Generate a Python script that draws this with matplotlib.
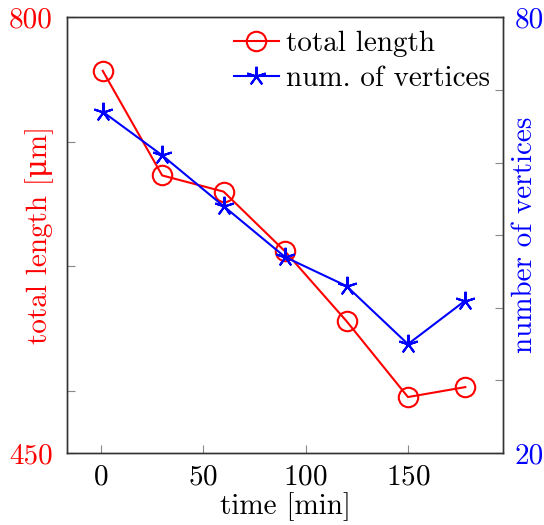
import matplotlib
matplotlib.use("Agg")
import matplotlib.pyplot as plt

plt.rcParams['font.family'] = ['cmr10', 'DejaVu Serif']
plt.rcParams['mathtext.fontset'] = 'cm'
plt.rcParams['axes.formatter.use_mathtext'] = True

# datos
time_min = [1, 30, 60, 90, 120, 150, 178]
total_length = [757, 673, 660, 612, 556, 495, 503]
num_vertices = [67, 61, 54, 47, 43, 35, 41]

left_ticks = [450, 500, 600, 700, 800]
left_labels = ['450', '', '', '', '800']
right_ticks = [20, 30, 40, 50, 60, 70, 80]
right_labels = ['20', '', '', '', '', '', '80']
x_ticks = [0, 50, 100, 150]

fs = 21
red = '#ff0000'
blue = '#0000ff'

fig = plt.figure(figsize=(5.44, 5.25), dpi=100)
ax = fig.add_axes([0.123, 0.137, 0.802, 0.830])
ax2 = ax.twinx()

l1, = ax.plot(time_min, total_length, color=red, lw=1.5, marker='o',
              markersize=14, markerfacecolor='none', markeredgewidth=1.5,
              label='total length')
l2, = ax2.plot(time_min, num_vertices, color=blue, lw=1.5, marker=(5, 2, 0),
               markersize=14, markeredgewidth=1.5, label='num. of vertices')

ax.set_xlim(-16.5, 196.5)
ax.set_ylim(450, 800)
ax2.set_ylim(20, 80)

ax.set_xticks(x_ticks)
ax.set_yticks(left_ticks)
ax.set_yticklabels(left_labels)
ax2.set_yticks(right_ticks)
ax2.set_yticklabels(right_labels)

for a in (ax, ax2):
    a.tick_params(direction='in', length=6, width=0.8, color='#888888',
                  labelsize=fs, pad=6)
    for s in a.spines.values():
        s.set_color('#333333')
        s.set_linewidth(1.0)
ax.tick_params(axis='x', pad=8)
ax.tick_params(axis='y', labelcolor=red, pad=10)
ax2.tick_params(axis='y', labelcolor=blue, pad=8)

ax.set_xlabel('time [min]', fontsize=fs, labelpad=1)
ax.set_ylabel('total length [\u03bcm]', fontsize=fs, color=red)
ax2.set_ylabel('number of vertices', fontsize=fs, color=blue)
ax.yaxis.set_label_coords(-0.062, 0.5)
ax2.yaxis.set_label_coords(1.05, 0.5)
ax.yaxis.label.set_va('center')
ax2.yaxis.label.set_va('center')

ax.legend(handles=[l1, l2], loc='upper right', fontsize=fs, frameon=False,
          handlelength=1.55, handletextpad=0.25, borderaxespad=0.25,
          labelspacing=0.3, borderpad=0.2)

fig.savefig('out.png', dpi=100)
